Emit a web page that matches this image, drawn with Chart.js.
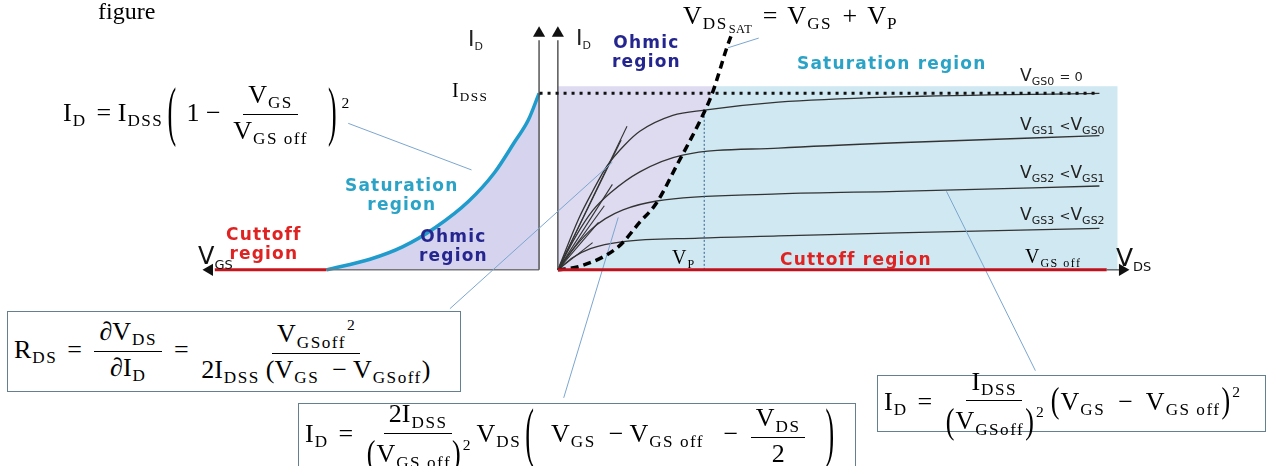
<!DOCTYPE html>
<html>
<head>
<meta charset="utf-8">
<script src="https://cdn.jsdelivr.net/npm/chart.js@4.4.1/dist/chart.umd.min.js"></script>
<style>
  html, body { margin: 0; padding: 0; background: #fff; }
  #wrap { position: relative; width: 1269px; height: 466px; overflow: hidden; }
  #c { position: absolute; left: 0; top: 0; }
  .t { position: absolute; font-family: "DejaVu Sans", Verdana, sans-serif; line-height: 1.1; white-space: nowrap; }
  .b { font-weight: bold; font-size: 17px; letter-spacing: 1.2px; text-align: center; }
  .t sub { font-size: 0.62em; vertical-align: -0.35em; }
  .m { position: absolute; font-family: "Liberation Serif", "Times New Roman", serif; line-height: 1; white-space: nowrap; color: #000; }
  .m sub { font-size: 0.66em; vertical-align: -0.32em; letter-spacing: 1.5px; margin-left: 1px; }
  .m sub sub { font-size: 0.72em; vertical-align: -0.3em; letter-spacing: 0.5px; }
  .m sup { font-size: 0.6em; vertical-align: 0.8em; margin-left: 1px; }
  .sp { display: inline-block; width: 10px; }
  .sp2 { display: inline-block; width: 6px; }
  .fr { display: inline-flex; flex-direction: column; align-items: center; vertical-align: middle; margin: 0 6px; }
  .fr > span:first-child { border-bottom: 1.4px solid #000; padding: 0 5px 2px; }
  .fr > span:last-child { padding-top: 3px; }
  .bp { display: inline-block; transform: scaleY(2.5); font-weight: 100; margin: 0 4px; }
  .mp { display: inline-block; transform: scaleY(1.4); margin: 0 1px; }
  .box { position: absolute; border: 1.5px solid #64808f; background: #fff; display: flex; align-items: center; padding-left: 6px; box-sizing: border-box; }
</style>
</head>
<body>
<div id="wrap">
  <canvas id="c" width="1269" height="466"></canvas>

  <div class="m" style="left:98px;top:-1px;font-size:24px">figure</div>

  <!-- transfer characteristic formula -->
  <div class="m" style="left:63px;top:82px;font-size:26px">I<sub>D</sub><span class="sp"></span>= I<sub>DSS</sub><span class="bp">(</span>&nbsp;1 − <span class="fr"><span>V<sub>GS</sub></span><span>V<sub>GS off</sub></span></span><span class="sp"></span><span class="bp">)</span><sup>2</sup></div>

  <div class="m" style="left:683px;top:3px;font-size:26px;word-spacing:4px">V<sub>DS<sub>SAT</sub></sub> = V<sub>GS</sub> + V<sub>P</sub></div>

  <div class="t" style="left:468px;top:27px;font-size:22px;color:#222">I<sub style="font-size:11px">D</sub></div>
  <div class="t" style="left:576px;top:26px;font-size:22px;color:#222">I<sub style="font-size:11px">D</sub></div>
  <div class="m" style="left:452px;top:80px;font-size:20px">I<sub>DSS</sub></div>

  <div class="t b" style="left:612px;top:33px;color:#25258f">Ohmic<br>region</div>
  <div class="t b" style="left:797px;top:54px;color:#2ba3c6">Saturation region</div>
  <div class="t b" style="left:345px;top:176px;color:#2ba3c6">Saturation<br>region</div>
  <div class="t b" style="left:226px;top:225px;color:#df2222">Cuttoff<br>region</div>
  <div class="t b" style="left:419px;top:227px;color:#25258f">Ohmic<br>region</div>
  <div class="t b" style="left:780px;top:250px;color:#df2222">Cuttoff region</div>

  <div class="t" style="left:198px;top:243px;font-size:24px;color:#111">V<sub style="font-size:13px">GS</sub></div>
  <div class="t" style="left:1116px;top:244px;font-size:25px;color:#111">V<sub style="font-size:13px">DS</sub></div>

  <div class="t" style="left:1020px;top:66px;font-size:17px;color:#222">V<sub style="font-size:11px">GS0</sub> <span style="font-size:13px">= 0</span></div>
  <div class="t" style="left:1020px;top:115px;font-size:17px;color:#222">V<sub style="font-size:11px">GS1</sub> <span style="font-size:13px">&lt;</span>V<sub style="font-size:11px">GS0</sub></div>
  <div class="t" style="left:1020px;top:163px;font-size:17px;color:#222">V<sub style="font-size:11px">GS2</sub> <span style="font-size:13px">&lt;</span>V<sub style="font-size:11px">GS1</sub></div>
  <div class="t" style="left:1020px;top:205px;font-size:17px;color:#222">V<sub style="font-size:11px">GS3</sub> <span style="font-size:13px">&lt;</span>V<sub style="font-size:11px">GS2</sub></div>
  <div class="m" style="left:1025px;top:246px;font-size:20px">V<sub style="font-size:12px">GS off</sub></div>
  <div class="m" style="left:672px;top:247px;font-size:20px">V<sub style="font-size:12px">P</sub></div>

  <!-- formula boxes -->
  <div class="box m" style="left:7px;top:311px;width:454px;height:81px;font-size:26px"><span>R<sub>DS</sub><span class="sp"></span>= <span class="fr"><span>∂V<sub>DS</sub></span><span>∂I<sub>D</sub></span></span><span class="sp2"></span>= <span class="fr"><span>V<sub>GSoff</sub><sup>2</sup></span><span>2I<sub>DSS</sub><span class="sp2"></span>(V<sub>GS</sub>&nbsp; − V<sub>GSoff</sub>)</span></span></span></div>

  <div class="box m" style="left:298px;top:403px;width:558px;height:66px;font-size:26px"><span>I<sub>D</sub><span class="sp"></span>= <span class="fr"><span>2I<sub>DSS</sub></span><span><span class="mp">(</span>V<sub>GS off</sub><span class="mp">)</span><sup>2</sup></span></span>V<sub>DS</sub><span class="bp">(</span>&nbsp;&nbsp;V<sub>GS</sub>&nbsp; − V<sub>GS off</sub>&nbsp;&nbsp; − <span class="fr"><span>V<sub>DS</sub></span><span>2</span></span><span class="sp"></span><span class="bp">)</span></span></div>

  <div class="box m" style="left:877px;top:375px;width:389px;height:57px;font-size:26px"><span>I<sub>D</sub><span class="sp"></span>= <span class="fr"><span>I<sub>DSS</sub></span><span><span class="mp">(</span>V<sub>GSoff</sub><span class="mp">)</span><sup>2</sup></span></span><span class="mp">(</span>V<sub>GS</sub>&nbsp; − &nbsp;V<sub>GS off</sub><span class="mp">)</span><sup>2</sup></span></div>
</div>

<script>
// canvas layout: where the two origins sit and how many px per unit
const W = 1269, H = 466;
const Y0 = 271, PX_PER_MA = 18.2;     // I_D axis, I_DSS = 10 mA
const XR0 = 557, PX_PER_V = 37;       // V_DS axis (right plot)
const XL0 = 538, PX_PER_VGS = 53.75;  // V_GS axis (left plot)

// transfer curve (left): V_GS [V] -> I_D [mA]
const vgsTransfer = [-4.0, -3.18, -2.57, -1.95, -1.32, -0.84, -0.47, -0.2, 0];
const idTransfer  = [0, 0.6, 1.3, 2.4, 3.9, 5.5, 7.2, 8.5, 10];

// output curves (right): V_DS [V] -> I_D [mA]
const vdsGs0 = [0, 0.57, 0.95, 1.35, 1.84, 2.24, 3.14, 4.0, 6.03, 9.27, 14.8];
const idGs0  = [0, 2.9, 4.45, 5.9, 7.1, 7.85, 8.75, 9.05, 9.5, 9.8, 10.0];
const vdsGs1 = [0, 0.49, 0.95, 1.43, 2.24, 3.41, 6.03, 9.27, 14.8];
const idGs1  = [0, 1.9, 3.35, 4.35, 5.55, 6.5, 6.9, 7.2, 7.6];
const vdsGs2 = [0, 0.41, 0.89, 1.3, 1.78, 2.7, 6.03, 9.27, 14.8];
const idGs2  = [0, 1.15, 2.25, 2.9, 3.4, 3.9, 4.3, 4.45, 4.75];
const vdsGs3 = [0, 0.41, 0.89, 1.78, 3.86, 6.03, 9.27, 14.8];
const idGs3  = [0, 0.7, 1.2, 1.6, 1.8, 1.92, 2.1, 2.35];

// straight ohmic-region lines from the origin (end points)
const rayVds = [1.89, 1.73, 1.49, 1.27, 1.11, 0.95];
const rayId  = [8.13, 7.36, 4.84, 3.63, 2.69, 1.54];

// V_DS,sat boundary (bold dashed)
const vdsSat = [0, 0.6, 1.65, 2.24, 2.7, 3.27, 3.9, 4.22, 4.62, 4.76];
const idSat  = [0, 0.2, 1.3, 2.7, 3.8, 6.0, 8.5, 10.0, 12.6, 13.4];

const vp = 4.0, vpTopId = 9.05;
const idss = 10, shadeTop = 10.4, shadeRight = 15.3;
const dotFrom = -0.5, dotTo = 14.8;
const axisTop = 13.0, arrowTop = 13.4;
const redEnd = 15.0, vdsArrow = 15.43;
const vgsOff = -4.0, vgsRedEnd = -6.1, vgsArrow = -6.2;

// leader lines [x0, x1], [y0, y1]
const leadTransfer = { x: [-3.59, -1.27], y: [8.3, 5.66] };       // on V_GS axis
const leadRds      = { x: [-2.95, 1.49], y: [-2.2, 6.1] };
const leadOhmic    = { x: [0.16, 1.65], y: [-7.25, 2.97] };
const leadSat      = { x: [13.05, 10.62], y: [-5.71, 4.45] };
const leadVdsSat   = { x: [5.49, 4.65], y: [13.13, 12.58] };

const pts = (xs, ys) => xs.map((x, i) => ({ x, y: ys[i] }));

function line(xs, ys, extra) {
  return Object.assign({
    data: pts(xs, ys), showLine: true, pointRadius: 0, pointHoverRadius: 0,
    borderColor: '#2b2b2b', borderWidth: 1.2, tension: 0, fill: false, order: 3
  }, extra);
}

function arrow(x, y, rot, axis) {
  return {
    data: [{ x, y }], xAxisID: axis || 'x', pointStyle: 'triangle', pointRadius: 7,
    rotation: rot, backgroundColor: '#111', borderWidth: 0, showLine: false, order: 0
  };
}

// saturation (blue) area: below the dashed boundary, up to the shaded top
const satEdge = pts(vdsSat, idSat).filter(p => p.y <= shadeTop);
satEdge.push({ x: 4.25, y: shadeTop }, { x: shadeRight, y: shadeTop });

const curve = { borderColor: '#333', borderWidth: 1.3, cubicInterpolationMode: 'monotone' };
const leader = { borderColor: '#7ba6cf', borderWidth: 1, order: 2 };

const datasets = [
  // shaded regions
  line([0, 4.25], [shadeTop, shadeTop], { fill: { value: 0 }, backgroundColor: '#dedbf0', borderWidth: 0, order: 20 }),
  { data: satEdge, showLine: true, pointRadius: 0, borderWidth: 0, fill: { value: 0 }, backgroundColor: '#d0e8f1', order: 19 },
  line(vgsTransfer, idTransfer, { xAxisID: 'xl', fill: { value: 0 }, backgroundColor: '#d6d3ee',
    borderColor: '#1f9ccb', borderWidth: 3.5, cubicInterpolationMode: 'monotone', order: 4 }),

  // axes
  line([0, 0], [0, axisTop], { xAxisID: 'xl', borderColor: '#555', borderWidth: 1.5 }),
  line([vgsOff, 0], [0, 0], { xAxisID: 'xl', borderColor: '#777', borderWidth: 1.5 }),
  line([vgsOff, vgsRedEnd], [0, 0], { xAxisID: 'xl', borderColor: '#c8141c', borderWidth: 3 }),
  line([0, 0], [0, axisTop], { borderColor: '#555', borderWidth: 1.5 }),
  line([redEnd, vdsArrow], [0, 0], { borderColor: '#444', borderWidth: 1.2 }),
  line([0, redEnd], [0, 0], { borderColor: '#c0121c', borderWidth: 3, order: 1 }),
  arrow(0, arrowTop, 0, 'xl'),
  arrow(0, arrowTop, 0),
  arrow(vgsArrow, 0, 270, 'xl'),
  arrow(vdsArrow, 0, 90),

  // I_DSS dotted level and V_P marker
  line([dotFrom, dotTo], [idss, idss], { borderColor: '#111', borderWidth: 3, borderDash: [3, 5], order: 1 }),
  line([vp, vp], [0, vpTopId], { borderColor: '#2f5f8f', borderWidth: 1, borderDash: [2, 2] }),

  // output characteristics
  line(vdsGs0, idGs0, curve),
  line(vdsGs1, idGs1, curve),
  line(vdsGs2, idGs2, curve),
  line(vdsGs3, idGs3, curve),
  ...rayVds.map((v, i) => line([0, v], [0, rayId[i]], { borderColor: '#333', borderWidth: 1.1 })),

  // V_DS,sat boundary
  line(vdsSat, idSat, { borderColor: '#000', borderWidth: 3.5, borderDash: [8, 5],
    cubicInterpolationMode: 'monotone', order: 1 }),

  // leader lines
  line(leadTransfer.x, leadTransfer.y, Object.assign({ xAxisID: 'xl' }, leader)),
  line(leadRds.x, leadRds.y, leader),
  line(leadOhmic.x, leadOhmic.y, leader),
  line(leadSat.x, leadSat.y, leader),
  line(leadVdsSat.x, leadVdsSat.y, leader)
];

new Chart(document.getElementById('c'), {
  type: 'scatter',
  data: { datasets },
  options: {
    responsive: false,
    animation: false,
    layout: { padding: 0 },
    plugins: { legend: { display: false }, tooltip: { enabled: false } },
    events: [],
    scales: {
      x:  { type: 'linear', display: false, min: -XR0 / PX_PER_V, max: (W - XR0) / PX_PER_V },
      xl: { type: 'linear', axis: 'x', display: false, min: -XL0 / PX_PER_VGS, max: (W - XL0) / PX_PER_VGS },
      y:  { type: 'linear', display: false, min: -(H - Y0) / PX_PER_MA, max: Y0 / PX_PER_MA }
    }
  }
});
</script>
</body>
</html>
